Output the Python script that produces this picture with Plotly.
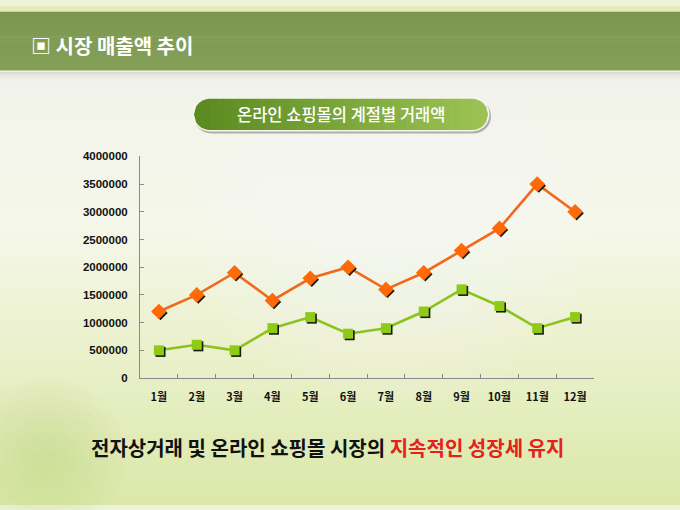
import numpy as np
import plotly.graph_objects as go

# chart data
months = ["1월", "2월", "3월", "4월", "5월", "6월", "7월", "8월", "9월", "10월", "11월", "12월"]
orange_vals = [1200000, 1500000, 1900000, 1400000, 1800000, 2000000,
               1600000, 1900000, 2300000, 2700000, 3500000, 3000000]
green_vals = [500000, 600000, 500000, 900000, 1100000, 800000,
              900000, 1200000, 1600000, 1300000, 900000, 1100000]
y_ticks = [0, 500000, 1000000, 1500000, 2000000, 2500000, 3000000, 3500000, 4000000]

W, H = 680, 510
# plot area in pixels
X0, X1 = 140, 594
Y0, Y1 = 154, 381
YMAX = 4000000


def fx(x):
    return x / W


def fy(y):
    return 1 - y / H


def mix(c1, c2, t):
    a = np.array([int(c1[i:i + 2], 16) for i in (1, 3, 5)])
    b = np.array([int(c2[i:i + 2], 16) for i in (1, 3, 5)])
    c = (a + (b - a) * t).round().astype(int)
    return "rgb(%d,%d,%d)" % tuple(c)


def poly_path(xs, ys):
    pts = ["%s%.5f,%.5f" % ("M" if i == 0 else "L", fx(x), fy(y)) for i, (x, y) in enumerate(zip(xs, ys))]
    return " ".join(pts) + " Z"


shapes = []

# background: vertical gradient in thin bands
stops = [(0, "#f2f2ea"), (0.35, "#f5f7ea"), (0.6, "#ecf2d0"), (1.0, "#dce8ab")]
n = 60
top, bot = 66, H
for i in range(n):
    ya = top + (bot - top) * i / n
    yb = top + (bot - top) * (i + 1) / n
    t = i / (n - 1)
    for j in range(len(stops) - 1):
        if stops[j][0] <= t <= stops[j + 1][0]:
            tt = (t - stops[j][0]) / (stops[j + 1][0] - stops[j][0])
            col = mix(stops[j][1], stops[j + 1][1], tt)
            break
    shapes.append(dict(type="rect", xref="paper", yref="paper", layer="below",
                       x0=0, x1=1, y0=fy(yb) - 0.002, y1=fy(ya), line=dict(width=0), fillcolor=col))

# soft white glow around the middle
for r in range(200, 30, -15):
    shapes.append(dict(type="circle", xref="paper", yref="paper", layer="below",
                       x0=fx(390 - r), x1=fx(390 + r), y0=fy(230 + r * 0.9), y1=fy(230 - r * 0.9),
                       line=dict(width=0), fillcolor="white", opacity=0.06))
# darker spot bottom left
for r in range(80, 5, -8):
    shapes.append(dict(type="circle", xref="paper", yref="paper", layer="below",
                       x0=fx(45 - r), x1=fx(45 + r), y0=fy(462 + r), y1=fy(462 - r),
                       line=dict(width=0), fillcolor="#b5c874", opacity=0.045))

# top strip and header band
shapes.append(dict(type="rect", xref="paper", yref="paper", layer="below",
                   x0=0, x1=1, y0=fy(7), y1=1, line=dict(width=0), fillcolor="#e2ecbd"))
for i in range(12):
    ya = 6 + 60 * i / 12
    yb = 6 + 60 * (i + 1) / 12
    shapes.append(dict(type="rect", xref="paper", yref="paper", layer="below",
                       x0=0, x1=1, y0=fy(yb) - 0.001, y1=fy(ya),
                       line=dict(width=0), fillcolor=mix("#7c9650", "#84a058", i / 11)))
shapes.append(dict(type="rect", xref="paper", yref="paper", layer="below",
                   x0=0, x1=1, y0=fy(67.5), y1=fy(66), line=dict(width=0), fillcolor="#eef3dc"))
for i, c in enumerate(["#d9dbd2", "#e2e4dc", "#eaebe5", "#efefea"]):
    shapes.append(dict(type="rect", xref="paper", yref="paper", layer="below",
                       x0=0, x1=1, y0=fy(69.5 + 2 * i), y1=fy(67.5 + 2 * i),
                       line=dict(width=0), fillcolor=c))


# pill label with horizontal gradient
def stadium(cx0, cx1, cy, r, dx=0, dy=0):
    a1 = np.linspace(np.pi / 2, 3 * np.pi / 2, 24)
    a2 = np.linspace(-np.pi / 2, np.pi / 2, 24)
    xs = list(cx0 + r * np.cos(a1)) + list(cx1 + r * np.cos(a2))
    ys = list(cy - r * np.sin(a1)) + list(cy - r * np.sin(a2))
    return [x + dx for x in xs], [y + dy for y in ys]


PL, PR, PC, PRAD = 194, 488, 111, 16
sx, sy = stadium(PL + PRAD, PR - PRAD, PC, PRAD + 1.5, 1.5, 2)
shapes.append(dict(type="path", xref="paper", yref="paper", path=poly_path(sx, sy),
                   line=dict(width=0), fillcolor="rgba(90,90,80,0.45)", layer="below"))
bx, by = stadium(PL + PRAD, PR - PRAD, PC, PRAD + 1.5)
shapes.append(dict(type="path", xref="paper", yref="paper", path=poly_path(bx, by),
                   line=dict(width=0), fillcolor="#f4f6ee", layer="below"))


def half(x):
    if x < PL + PRAD:
        d = PL + PRAD - x
    elif x > PR - PRAD:
        d = x - (PR - PRAD)
    else:
        d = 0
    return np.sqrt(max(PRAD ** 2 - d ** 2, 0))


nstrip = 40
edges = np.linspace(PL, PR, nstrip + 1)
for i in range(nstrip):
    xa, xb = edges[i], min(edges[i + 1] + 0.6, PR)
    xs_s = np.linspace(xa, xb, 5)
    hs = [half(x) for x in xs_s]
    px_ = list(xs_s) + list(xs_s[::-1])
    py_ = [PC - h for h in hs] + [PC + h for h in hs[::-1]]
    shapes.append(dict(type="path", xref="paper", yref="paper", path=poly_path(px_, py_),
                       line=dict(width=0), fillcolor=mix("#5a8a20", "#9cc254", i / (nstrip - 1)),
                       layer="below"))

fig = go.Figure()

# lines on the visible axes, marker shadows on an offset overlay, markers on top
fig.add_trace(go.Scatter(x=months, y=orange_vals, mode="lines",
                         line=dict(color="#f0691c", width=2.6), showlegend=False))
fig.add_trace(go.Scatter(x=months, y=green_vals, mode="lines",
                         line=dict(color="#8cc21c", width=2.6), showlegend=False))
fig.add_trace(go.Scatter(x=months, y=orange_vals, mode="markers", xaxis="x2", yaxis="y2",
                         marker=dict(symbol="diamond", size=11, color="#1a1a10"),
                         hoverinfo="skip", showlegend=False))
fig.add_trace(go.Scatter(x=months, y=green_vals, mode="markers", xaxis="x2", yaxis="y2",
                         marker=dict(symbol="square", size=10, color="#1a1a10"),
                         hoverinfo="skip", showlegend=False))
fig.add_trace(go.Scatter(x=months, y=orange_vals, mode="markers", xaxis="x3", yaxis="y3",
                         marker=dict(symbol="diamond", size=12, color="#ff6a08"),
                         showlegend=False))
fig.add_trace(go.Scatter(x=months, y=green_vals, mode="markers", xaxis="x3", yaxis="y3",
                         marker=dict(symbol="square", size=10, color="#8ecb18"),
                         showlegend=False))

cat_w = (X1 - X0) / len(months)
px_per_unit = (Y1 - Y0) / YMAX
sh_x, sh_y = 1.6, 1.6
xdom = [X0 / W, X1 / W]
ydom = [(H - Y1) / H, (H - Y0) / H]

axis_font = dict(family="Liberation Sans, Noto Sans CJK KR", size=11.5, color="#111111", weight="bold")

fig.update_layout(
    width=W, height=H,
    margin=dict(l=0, r=0, t=0, b=0),
    paper_bgcolor="#eef3d8",
    plot_bgcolor="rgba(0,0,0,0)",
    shapes=shapes,
    xaxis=dict(domain=xdom, type="category", categoryorder="array", categoryarray=months,
               range=[-0.5, len(months) - 0.5], showgrid=False, zeroline=False,
               showline=True, linecolor="#8a8a8a", linewidth=1,
               ticks="inside", ticklen=4, tickcolor="#8a8a8a", tickson="boundaries",
               tickfont=dict(family="Noto Sans CJK KR", size=11, color="#111111", weight="bold"),
               ticklabelstandoff=9, fixedrange=True),
    yaxis=dict(domain=ydom, range=[0, YMAX], tickvals=y_ticks, tickformat="d",
               showgrid=False, zeroline=False, showline=True, linecolor="#8a8a8a", linewidth=1,
               ticks="inside", ticklen=4, tickcolor="#8a8a8a", tickfont=axis_font,
               ticklabelstandoff=9, fixedrange=True),
    xaxis2=dict(overlaying="x", type="category", categoryorder="array", categoryarray=months,
                range=[-0.5 - sh_x / cat_w, len(months) - 0.5 - sh_x / cat_w], visible=False,
                fixedrange=True),
    yaxis2=dict(overlaying="y", range=[sh_y / px_per_unit, YMAX + sh_y / px_per_unit], visible=False,
                fixedrange=True),
    xaxis3=dict(overlaying="x", type="category", categoryorder="array", categoryarray=months,
                range=[-0.5, len(months) - 0.5], visible=False, fixedrange=True),
    yaxis3=dict(overlaying="y", range=[0, YMAX], visible=False, fixedrange=True),
    annotations=[
        dict(xref="paper", yref="paper", x=fx(29), y=fy(40), xanchor="left", yanchor="middle",
             text="<b>▣ 시장 매출액 추이</b>", showarrow=False,
             font=dict(family="Noto Sans CJK KR", size=20, color="white")),
        dict(xref="paper", yref="paper", x=fx(341), y=fy(111), xanchor="center", yanchor="middle",
             text="온라인 쇼핑몰의 계절별 거래액", showarrow=False,
             font=dict(family="Noto Sans CJK KR", size=16.5, color="white", weight=500)),
        dict(xref="paper", yref="paper", x=fx(327), y=fy(452), xanchor="center", yanchor="middle",
             text="<b>전자상거래 및 온라인 쇼핑몰 시장의 <span style='color:#e3221c'>지속적인 성장세 유지</span></b>",
             showarrow=False,
             font=dict(family="Noto Sans CJK KR", size=20, color="#111111")),
    ],
)

fig.write_html("out.html", config={"displayModeBar": False},
               post_script="document.body.style.margin='0';")
